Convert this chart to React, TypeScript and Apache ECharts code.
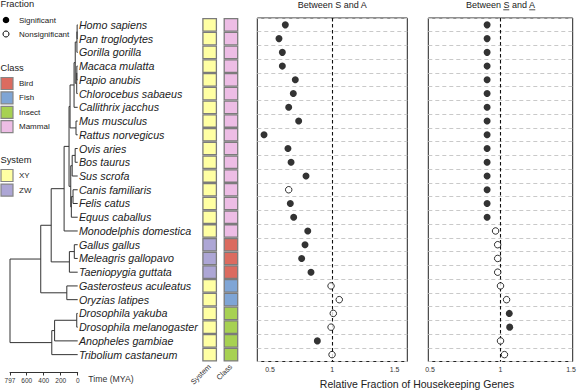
import React, { useEffect, useRef } from 'react';
import * as echarts from 'echarts';

const species = [
  'Homo sapiens', 'Pan troglodytes', 'Gorilla gorilla', 'Macaca mulatta', 'Papio anubis',
  'Chlorocebus sabaeus', 'Callithrix jacchus', 'Mus musculus', 'Rattus norvegicus', 'Ovis aries',
  'Bos taurus', 'Sus scrofa', 'Canis familiaris', 'Felis catus', 'Equus caballus',
  'Monodelphis domestica', 'Gallus gallus', 'Meleagris gallopavo', 'Taeniopygia guttata',
  'Gasterosteus aculeatus', 'Oryzias latipes', 'Drosophila yakuba', 'Drosophila melanogaster',
  'Anopheles gambiae', 'Tribolium castaneum',
];

const systemType = [
  'XY', 'XY', 'XY', 'XY', 'XY', 'XY', 'XY', 'XY', 'XY', 'XY', 'XY', 'XY', 'XY', 'XY', 'XY', 'XY',
  'ZW', 'ZW', 'ZW', 'XY', 'XY', 'XY', 'XY', 'XY', 'XY',
];
const classType = [
  'Mammal', 'Mammal', 'Mammal', 'Mammal', 'Mammal', 'Mammal', 'Mammal', 'Mammal', 'Mammal',
  'Mammal', 'Mammal', 'Mammal', 'Mammal', 'Mammal', 'Mammal', 'Mammal',
  'Bird', 'Bird', 'Bird', 'Fish', 'Fish', 'Insect', 'Insect', 'Insect', 'Insect',
];

const classNames = ['Bird', 'Fish', 'Insect', 'Mammal'];
const classColors = ['#DB6B5F', '#7FA5D5', '#A7D152', '#EDBDE5'];
const systemNames = ['XY', 'ZW'];
const systemColors = ['#FFFFA3', '#ADA6D5'];

// Between S and A
const fracSA = [
  0.623, 0.572, 0.599, 0.599, 0.703, 0.687, 0.650, 0.730, 0.452, 0.644, 0.669, 0.789, 0.650,
  0.663, 0.690, 0.803, 0.781, 0.754, 0.829, 0.990, 1.056, 1.008, 0.990, 0.880, 0.998,
];
const sigSA = [1, 1, 1, 1, 1, 1, 1, 1, 1, 1, 1, 1, 0, 1, 1, 1, 1, 1, 1, 0, 0, 0, 0, 1, 0];

// Between S_ and A_
const fracSAu = [
  0.905, 0.905, 0.905, 0.905, 0.905, 0.905, 0.905, 0.905, 0.905, 0.905, 0.905, 0.905, 0.905,
  0.905, 0.905, 0.965, 0.980, 0.980, 0.980, 1.000, 1.043, 1.062, 1.065, 1.000, 1.028,
];
const sigSAu = [1, 1, 1, 1, 1, 1, 1, 1, 1, 1, 1, 1, 1, 1, 1, 0, 0, 0, 0, 0, 0, 1, 1, 0, 0];

const fracTicks = [0.5, 1, 1.5];
const timeTicks = [797, 600, 400, 200, 0];

// [node id, child A, child B, age (MYA)]
const treeNodes: [string, string, string, number][] = [
  ['HP', 'Homo sapiens', 'Pan troglodytes', 6.7],
  ['HPG', 'HP', 'Gorilla gorilla', 9.1],
  ['MP', 'Macaca mulatta', 'Papio anubis', 10],
  ['MPC', 'MP', 'Chlorocebus sabaeus', 11.5],
  ['Catarrhini', 'HPG', 'MPC', 29],
  ['Simiiformes', 'Catarrhini', 'Callithrix jacchus', 43],
  ['MR', 'Mus musculus', 'Rattus norvegicus', 20],
  ['Euarchontoglires', 'Simiiformes', 'MR', 90],
  ['OB', 'Ovis aries', 'Bos taurus', 30],
  ['OBS', 'OB', 'Sus scrofa', 65],
  ['CF', 'Canis familiaris', 'Felis catus', 55],
  ['CFE', 'CF', 'Equus caballus', 75],
  ['Laurasiatheria', 'OBS', 'CFE', 82],
  ['Eutheria', 'Euarchontoglires', 'Laurasiatheria', 102],
  ['Theria', 'Eutheria', 'Monodelphis domestica', 160],
  ['GM', 'Gallus gallus', 'Meleagris gallopavo', 40],
  ['Aves', 'GM', 'Taeniopygia guttata', 98],
  ['Amniota', 'Theria', 'Aves', 312],
  ['Teleostei', 'Gasterosteus aculeatus', 'Oryzias latipes', 128],
  ['Vertebrata', 'Amniota', 'Teleostei', 435],
  ['Dros', 'Drosophila yakuba', 'Drosophila melanogaster', 11],
  ['Diptera', 'Dros', 'Anopheles gambiae', 272],
  ['Holometabola', 'Diptera', 'Tribolium castaneum', 305],
  ['Root', 'Vertebrata', 'Holometabola', 797],
];

const FONT = '"Liberation Sans", Arial, Helvetica, sans-serif';
const TXT = '#222';

export default function App() {
  const ref = useRef<HTMLDivElement>(null);

  useEffect(() => {
    document.body.style.margin = '0';
    if (!ref.current) return;
    const chart = echarts.init(ref.current, null, { renderer: 'svg' });

    // tree layout from node table
    const pos: Record<string, { x: number; y: number }> = {};
    species.forEach((s, i) => { pos[s] = { x: 0, y: i }; });
    treeNodes.forEach(([id, a, b, age]) => {
      pos[id] = { x: age, y: (pos[a].y + pos[b].y) / 2 };
    });
    const treeEdges = treeNodes.map(([, a, b, age]) => [pos[a].x, pos[a].y, age, pos[b].y, pos[b].x]);

    const cellData: any[] = [];
    species.forEach((_, i) => {
      cellData.push({ value: [0, i], itemStyle: { color: systemColors[systemNames.indexOf(systemType[i])] } });
      cellData.push({ value: [1, i], itemStyle: { color: classColors[classNames.indexOf(classType[i])] } });
    });

    const pick = (vals: number[], sig: number[], flag: number) =>
      vals.map((v, i) => (sig[i] === flag ? [v, i] : null)).filter((d) => d !== null);

    const top = 18;
    const height = 343.5;
    const g0 = { left: 10, width: 67.7 };
    const g1 = { left: 199, width: 42.6 };
    const g2 = { left: 257.3, width: 150 };
    const g3 = { left: 428.3, width: 144.4 };

    const catY = (gridIndex: number) => ({
      type: 'category', gridIndex, data: species, inverse: true, boundaryGap: true,
      axisLine: { show: false }, axisTick: { show: false }, axisLabel: { show: false, interval: 0 },
      splitLine: { show: true, interval: 0, lineStyle: { color: '#c9c9c9', type: [4, 3], width: 1 } },
    });

    const valX = (gridIndex: number, min: number, max: number) => ({
      type: 'value', gridIndex, min, max,
      axisLine: { show: false, onZero: false }, axisTick: { show: false },
      splitLine: { show: false },
      axisLabel: { customValues: fracTicks, fontSize: 7, color: '#333', margin: 4, fontFamily: FONT,
        formatter: (v: number) => String(v) },
    });

    const dotSeries = (xi: number, yi: number, vals: number[], sig: number[]) => [
      {
        type: 'scatter', xAxisIndex: xi, yAxisIndex: yi, data: pick(vals, sig, 1),
        symbolSize: 7, itemStyle: { color: '#000' }, z: 5, silent: true,
        markLine: {
          silent: true, symbol: ['none', 'none'], label: { show: false },
          lineStyle: { color: '#111', type: [3.5, 2.5], width: 1.1 },
          data: [{ xAxis: 1 }],
        },
      },
      {
        type: 'scatter', xAxisIndex: xi, yAxisIndex: yi, data: pick(vals, sig, 0),
        symbolSize: 6.5, itemStyle: { color: '#fff', borderColor: '#000', borderWidth: 1 }, z: 5, silent: true,
      },
    ];

    // underline positions for second title
    const ctx = document.createElement('canvas').getContext('2d')!;
    const tf = 9;
    ctx.font = `${tf}px "Liberation Sans"`;
    const t2 = 'Between S and A';
    const wFull = ctx.measureText(t2).width;
    const wPre = ctx.measureText('Between ').width;
    const wS = ctx.measureText('S').width;
    const wMid = ctx.measureText('Between S and ').width;
    const wA = ctx.measureText('A').width;
    const c2 = g3.left + g3.width / 2;
    const c1 = g2.left + g2.width / 2;
    const x0 = c2 - wFull / 2;
    const ulY = 9.8;

    const legendEls: any[] = [
      { type: 'text', x: 0.5, y: 4, style: { text: 'Fraction', fontSize: 9.3, fill: TXT, fontFamily: FONT, verticalAlign: 'middle' } },
      { type: 'circle', shape: { cx: 6, cy: 20, r: 3.3 }, style: { fill: '#000' } },
      { type: 'text', x: 19, y: 20, style: { text: 'Significant', fontSize: 8, fill: TXT, fontFamily: FONT, verticalAlign: 'middle' } },
      { type: 'circle', shape: { cx: 6, cy: 34, r: 3 }, style: { fill: '#fff', stroke: '#000', lineWidth: 1 } },
      { type: 'text', x: 19, y: 34, style: { text: 'Nonsignificant', fontSize: 8, fill: TXT, fontFamily: FONT, verticalAlign: 'middle' } },
      { type: 'text', x: 0.5, y: 68, style: { text: 'Class', fontSize: 9.3, fill: TXT, fontFamily: FONT, verticalAlign: 'middle' } },
      { type: 'text', x: 0.5, y: 160, style: { text: 'System', fontSize: 9.3, fill: TXT, fontFamily: FONT, verticalAlign: 'middle' } },
      { type: 'text', x: 88.3, y: 378.5, style: { text: 'Time (MYA)', fontSize: 8.7, fill: '#333', fontFamily: FONT, verticalAlign: 'middle' } },
    ];
    classNames.forEach((n, i) => {
      const y = 77.5 + i * 14.4;
      legendEls.push({ type: 'rect', shape: { x: 1, y, width: 12, height: 12 }, style: { fill: classColors[i], stroke: '#858585', lineWidth: 1.2 } });
      legendEls.push({ type: 'text', x: 19, y: y + 6, style: { text: n, fontSize: 8, fill: TXT, fontFamily: FONT, verticalAlign: 'middle' } });
    });
    systemNames.forEach((n, i) => {
      const y = 169.5 + i * 14.6;
      legendEls.push({ type: 'rect', shape: { x: 1, y, width: 12, height: 12 }, style: { fill: systemColors[i], stroke: '#858585', lineWidth: 1.2 } });
      legendEls.push({ type: 'text', x: 19, y: y + 6, style: { text: n, fontSize: 8, fill: TXT, fontFamily: FONT, verticalAlign: 'middle' } });
    });

    const titleEls: any[] = [
      { type: 'text', x: c1, y: 5, style: { text: 'Between S and A', fontSize: tf, fill: TXT, fontFamily: FONT, align: 'center', verticalAlign: 'middle' } },
      { type: 'text', x: c2, y: 5, style: { text: t2, fontSize: tf, fill: TXT, fontFamily: FONT, align: 'center', verticalAlign: 'middle' } },
      { type: 'line', shape: { x1: x0 + wPre, y1: ulY, x2: x0 + wPre + wS, y2: ulY }, style: { stroke: TXT, lineWidth: 0.8 } },
      { type: 'line', shape: { x1: x0 + wMid, y1: ulY, x2: x0 + wMid + wA, y2: ulY }, style: { stroke: TXT, lineWidth: 0.8 } },
      { type: 'text', x: (g2.left + g3.left + g3.width) / 2 + 2, y: 384, style: { text: 'Relative Fraction of Housekeeping Genes', fontSize: 10.5, fill: TXT, fontFamily: FONT, align: 'center', verticalAlign: 'middle' } },
    ];

    const option: any = {
      animation: false,
      textStyle: { fontFamily: FONT },
      grid: [
        { left: g0.left, width: g0.width, top, height, outerBoundsMode: 'none' },
        { left: g1.left, width: g1.width, top, height, outerBoundsMode: 'none' },
        { left: g2.left, width: g2.width, top, height, show: true, borderColor: '#222', borderWidth: 1, outerBoundsMode: 'none' },
        { left: g3.left, width: g3.width, top, height, show: true, borderColor: '#222', borderWidth: 1, outerBoundsMode: 'none' },
      ],
      xAxis: [
        {
          type: 'value', gridIndex: 0, min: 0, max: 797, inverse: true, position: 'bottom', offset: 10.5,
          axisLine: { show: true, onZero: false, lineStyle: { color: '#333', width: 1 } },
          axisTick: { show: true, length: 3.5, customValues: timeTicks, lineStyle: { color: '#333', width: 1 } },
          axisLabel: { customValues: timeTicks, fontSize: 6.5, color: '#333', margin: 5, fontFamily: FONT },
          splitLine: { show: false },
        },
        {
          type: 'category', gridIndex: 1, data: ['System', 'Class'],
          axisLine: { show: false, onZero: false }, axisTick: { show: false }, splitLine: { show: false },
          axisLabel: { rotate: 45, fontSize: 7.5, color: '#333', margin: 4, interval: 0, fontFamily: FONT },
        },
        valX(2, 0.398, 1.602),
        valX(3, 0.488, 1.512),
      ],
      yAxis: [
        { type: 'value', gridIndex: 0, min: -0.5, max: 24.5, inverse: true, show: false, splitLine: { show: false } },
        {
          type: 'category', gridIndex: 0, data: species, inverse: true, position: 'right',
          axisLine: { show: false, onZero: false }, axisTick: { show: false }, splitLine: { show: false },
          axisLabel: { interval: 0, align: 'left', margin: 1.2, fontSize: 10.7, fontStyle: 'italic', color: TXT, fontFamily: FONT },
        },
        { type: 'category', gridIndex: 1, data: species, inverse: true, show: false },
        catY(2),
        catY(3),
      ],
      graphic: { elements: [...legendEls, ...titleEls] },
      series: [
        {
          type: 'custom', xAxisIndex: 0, yAxisIndex: 0, data: treeEdges, silent: true,
          renderItem: (_p: any, api: any) => {
            const v = [0, 1, 2, 3, 4].map((i) => api.value(i));
            const pts = [api.coord([v[0], v[1]]), api.coord([v[2], v[1]]), api.coord([v[2], v[3]]), api.coord([v[4], v[3]])];
            return { type: 'polyline', shape: { points: pts }, style: { stroke: '#333', lineWidth: 1, fill: null } };
          },
        },
        {
          type: 'custom', xAxisIndex: 1, yAxisIndex: 2, data: cellData, silent: true,
          renderItem: (_p: any, api: any) => {
            const c = api.coord([api.value(0), api.value(1)]);
            const sz = api.size([1, 1]);
            const w = 13.5;
            const h = sz[1] - 1.3;
            return {
              type: 'rect', shape: { x: c[0] - w / 2, y: c[1] - h / 2, width: w, height: h },
              style: { fill: api.visual('color'), stroke: '#7b7b7b', lineWidth: 1.3 },
            };
          },
        },
        ...dotSeries(2, 3, fracSA, sigSA),
        ...dotSeries(3, 4, fracSAu, sigSAu),
      ],
    };

    chart.setOption(option);
    return () => chart.dispose();
  }, []);

  return <div ref={ref} style={{ width: 578, height: 391 }} />;
}
